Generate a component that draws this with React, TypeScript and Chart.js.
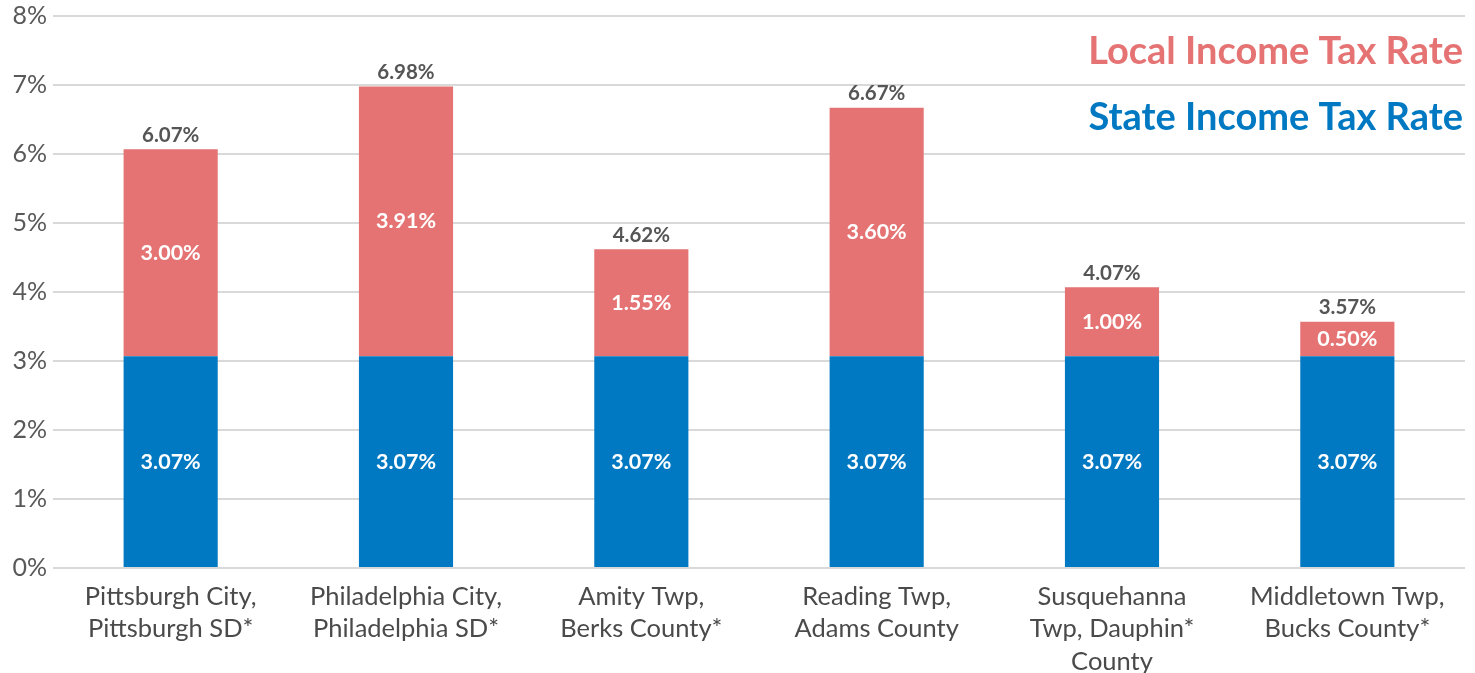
import React, { useEffect, useRef } from "react";
import { Chart, registerables } from "chart.js";

Chart.register(...registerables);

const categories: string[][] = [
  ["Pittsburgh City,", "Pittsburgh SD*"],
  ["Philadelphia City,", "Philadelphia SD*"],
  ["Amity Twp,", "Berks County*"],
  ["Reading Twp,", "Adams County"],
  ["Susquehanna", "Twp, Dauphin*", "County"],
  ["Middletown Twp,", "Bucks County*"],
];
const stateRates = [3.07, 3.07, 3.07, 3.07, 3.07, 3.07];
const localRates = [3.0, 3.91, 1.55, 3.6, 1.0, 0.5];
const totals = [6.07, 6.98, 4.62, 6.67, 4.07, 3.57];
const yTicks = [0, 1, 2, 3, 4, 5, 6, 7, 8];

const RED = "#E57373";
const BLUE = "#0079C2";
const FONT = "Lato";

const labelPlugin = {
  id: "labelPlugin",
  afterDatasetsDraw(chart: any) {
    const ctx = chart.ctx;
    ctx.save();
    ctx.textAlign = "center";
    ctx.textBaseline = "middle";
    chart.data.datasets.forEach((ds: any, di: number) => {
      const meta = chart.getDatasetMeta(di);
      meta.data.forEach((bar: any, i: number) => {
        const top = bar.y;
        const bottom = bar.base;
        ctx.fillStyle = "#ffffff";
        ctx.font = `bold 21.5px ${FONT}`;
        ctx.fillText(ds.data[i].toFixed(2) + "%", bar.x, (top + bottom) / 2);
        if (di === 1) {
          ctx.fillStyle = "#555555";
          ctx.font = `bold 20.5px ${FONT}`;
          ctx.fillText(totals[i].toFixed(2) + "%", bar.x, top - 14);
        }
      });
    });
    // legend text
    const right = chart.chartArea.right - 2;
    ctx.textAlign = "right";
    ctx.font = `bold 38px ${FONT}`;
    ctx.fillStyle = RED;
    ctx.fillText("Local Income Tax Rate", right, 52);
    ctx.fillStyle = BLUE;
    ctx.fillText("State Income Tax Rate", right, 118);
    ctx.restore();
  },
};

export default function App() {
  const ref = useRef<HTMLCanvasElement>(null);
  useEffect(() => {
    let chart: Chart | null = null;
    let cancelled = false;
    const make = () => {
      if (cancelled || !ref.current) return;
      chart = new Chart(ref.current, {
        type: "bar",
        data: {
          labels: categories,
          datasets: [
            { label: "State Income Tax Rate", data: stateRates, backgroundColor: BLUE, stack: "s" },
            { label: "Local Income Tax Rate", data: localRates, backgroundColor: RED, stack: "s" },
          ],
        },
        options: {
          animation: false,
          responsive: false,
          maintainAspectRatio: false,
          layout: { padding: { top: 16, right: 10, left: 0, bottom: 0 } },
          datasets: { bar: { categoryPercentage: 1, barPercentage: 0.4 } },
          plugins: { legend: { display: false }, tooltip: { enabled: false } },
          scales: {
            x: {
              stacked: true,
              grid: { display: false, drawTicks: false },
              border: { display: false },
              afterFit: (axis: any) => {
                axis.height = 105;
                axis.paddingLeft = 0;
                axis.paddingRight = 0;
              },
              ticks: {
                color: "#4a4a4a",
                font: { family: FONT, size: 25.5, lineHeight: 1.26 },
                padding: 13,
                maxRotation: 0,
              },
            },
            y: {
              stacked: true,
              min: 0,
              max: 8,
              afterBuildTicks: (axis: any) => {
                axis.ticks = yTicks.map((v) => ({ value: v }));
              },
              afterFit: (axis: any) => {
                axis.width = 53;
                axis.paddingTop = 0;
                axis.paddingBottom = 0;
              },
              grid: { color: "#d9d9d9", lineWidth: 2, drawTicks: false },
              border: { display: false },
              ticks: {
                color: "#595959",
                font: { family: FONT, size: 25 },
                padding: 6,
                callback: (v: any) => v + "%",
              },
            },
          },
        },
        plugins: [labelPlugin],
      });
    };
    const fonts = (document as any).fonts;
    if (fonts && fonts.load) {
      Promise.all([fonts.load(`24px ${FONT}`), fonts.load(`bold 24px ${FONT}`)])
        .catch(() => {})
        .then(make);
    } else make();
    return () => {
      cancelled = true;
      if (chart) chart.destroy();
    };
  }, []);
  return (
    <div style={{ position: "fixed", left: 0, top: 0, width: 1475, height: 673, background: "#fff" }}>
      <canvas ref={ref} width={1475} height={673} style={{ width: 1475, height: 673 }} />
    </div>
  );
}
